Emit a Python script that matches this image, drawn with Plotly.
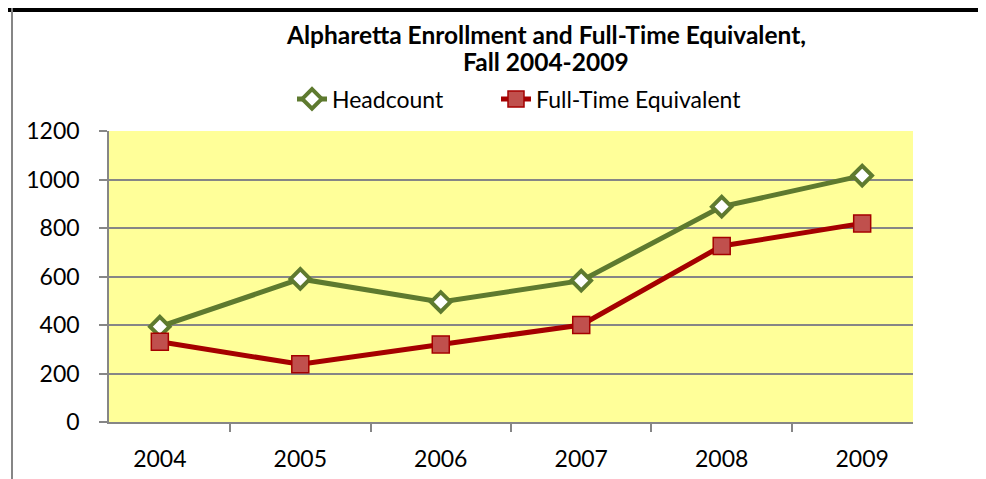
import plotly.graph_objects as go

years = ["2004", "2005", "2006", "2007", "2008", "2009"]
headcount = [393, 590, 495, 583, 888, 1016]
fte = [331, 238, 320, 400, 726, 819]
y_ticks = [0, 200, 400, 600, 800, 1000, 1200]
title_lines = ["Alpharetta Enrollment and Full-Time Equivalent,", "Fall 2004-2009"]

FONT = "Lato, Carlito, Calibri, sans-serif"
L, R, T, B = 101, 81, 123, 65
PW, PH = 986 - L - R, 479 - T - B

fig = go.Figure()
fig.add_trace(go.Scatter(
    x=years, y=headcount, name="Headcount", mode="lines+markers",
    line=dict(color="#5E7A2F", width=5), legend="legend",
    marker=dict(symbol="diamond", size=15, color="white",
                line=dict(color="#5E7A2F", width=4)),
))
fig.add_trace(go.Scatter(
    x=years, y=fte, name="Full-Time Equivalent", mode="lines+markers",
    line=dict(color="#A50000", width=5), legend="legend2",
    marker=dict(symbol="square", size=17, color="#C0504D",
                line=dict(color="#A50000", width=1.5)),
))

leg_common = dict(orientation="h", xanchor="left", y=1 + (T - 91) / PH, yanchor="middle",
                  font=dict(size=23, family=FONT), bgcolor="rgba(0,0,0,0)")
fig.update_layout(
    width=986, height=479,
    margin=dict(l=L, r=R, t=T, b=B),
    paper_bgcolor="white", plot_bgcolor="#FFFF99",
    font=dict(family=FONT, size=23, color="black"),
    legend=dict(x=(284 - L) / PW, **leg_common),
    legend2=dict(x=(488 - L) / PW, **leg_common),
    showlegend=True,
    xaxis=dict(type="category", tickson="boundaries", ticks="outside", ticklen=8,
               tickcolor="#868686", tickwidth=1.5, showline=True, linecolor="#868686",
               linewidth=1.5, showgrid=False, ticklabelstandoff=16,
               tickfont=dict(size=23, family=FONT)),
    yaxis=dict(range=[0, 1200], tickvals=y_ticks, ticks="outside", ticklen=8,
               tickcolor="#868686", tickwidth=1.5, showline=True, linecolor="#868686",
               linewidth=1.5, gridcolor="#868686", gridwidth=1.5, zeroline=False,
               ticklabelstandoff=15, tickfont=dict(size=23, family=FONT)),
)
for line, ypix in zip(title_lines, [26, 54]):
    fig.add_annotation(text="<b>" + line + "</b>", xref="paper", yref="paper",
                       x=(538 - L) / PW, y=1 + (T - ypix) / PH,
                       xanchor="center", yanchor="middle", showarrow=False,
                       font=dict(size=24.5, family=FONT, color="black"))
fig.add_shape(type="rect", xref="paper", yref="paper", x0=-0.2, x1=1.2,
              y0=1.0 + (T - 4) / PH, y1=1.6, fillcolor="black", line_width=0,
              layer="above")
fig.add_shape(type="line", xref="paper", yref="paper",
              x0=(4 - L) / PW, x1=(4 - L) / PW, y0=-0.3, y1=1.5,
              line=dict(color="#868686", width=2))
fig.write_html("out.html")
